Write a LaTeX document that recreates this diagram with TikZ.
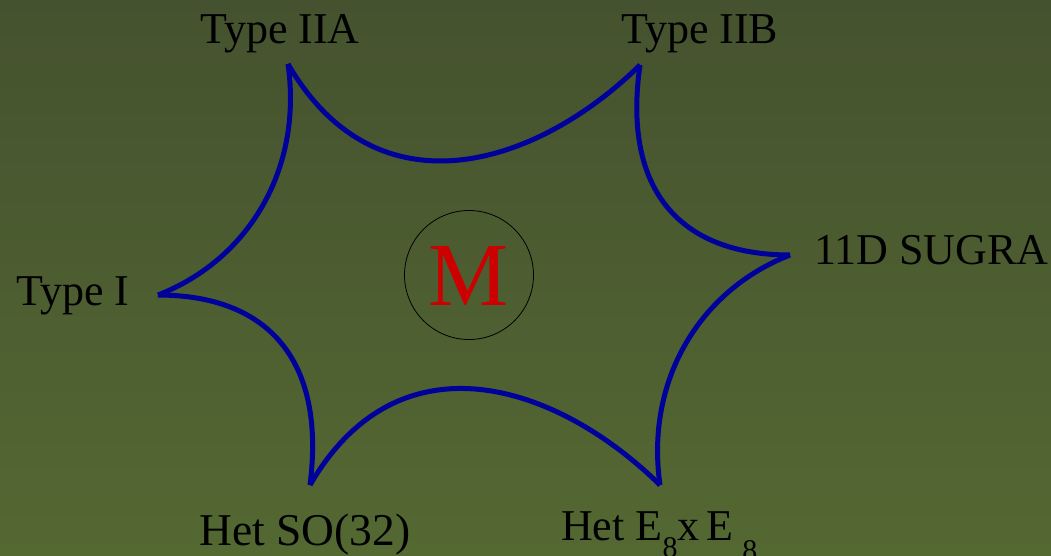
\documentclass[tikz,border=0pt]{standalone}
\usepackage{fontspec}
\setmainfont{Liberation Serif}
\definecolor{bgtop}{RGB}{69,82,47}
\definecolor{bgbot}{RGB}{84,104,50}
\definecolor{starblue}{RGB}{0,0,155}
\definecolor{mred}{RGB}{204,0,0}
\newcommand{\subeight}[1]{\raisebox{-#1}{\fontsize{30}{30}\selectfont 8}}
\begin{document}
\begin{tikzpicture}[x=1pt,y=-1pt,
  lbl/.style={anchor=base west, inner sep=0pt, font=\fontsize{44}{50}\selectfont},
  edge/.style={draw=starblue, line width=5pt, line cap=butt}]
\useasboundingbox (0,0) rectangle (1051,555);
\clip (0,0) rectangle (1051,555);
\shade[top color=bgtop, bottom color=bgbot] (0,0) rectangle (1051,555);
% cusps
\coordinate (IIA) at (288,64);
\coordinate (IIB) at (640,65);
\coordinate (SUGRA) at (790,255);
\coordinate (E8) at (660,485);
\coordinate (SO) at (310,485);
\coordinate (TI) at (158,295);
% edges
\draw[edge] (IIA) .. controls +(90,155) and +(-101,99.5) .. (IIB);
\draw[edge] (IIB) .. controls +(-18,125) and +(-110,0) .. (SUGRA);
\draw[edge] (SUGRA) .. controls +(-90,35) and +(-15,-105) .. (E8);
\draw[edge] (E8) .. controls +(-101,-99.5) and +(90,-155) .. (SO);
\draw[edge] (SO) .. controls +(16,-125) and +(110,0) .. (TI);
\draw[edge] (TI) .. controls +(90,-35) and +(15,106) .. (IIA);
% centre
\node[circle, draw=black, line width=0.8pt, minimum size=129pt, inner sep=0pt] (circ) at (469,275) {};
\node[anchor=base, inner sep=0pt, text=mred, font=\fontsize{90}{92}\selectfont] (M) at (469,305) {M};
% labels
\node[lbl] (tIIA) at (200,43) {Type IIA};
\node[lbl] (tIIB) at (621,43) {Type IIB};
\node[lbl] (tSUGRA) at (814,264) {11D SUGRA};
\node[lbl] (tI) at (16,305) {Type I};
\node[lbl, font=\fontsize{45.5}{50}\selectfont] (tSO) at (199,545) {Het SO(32)};
\node[lbl] (tE8) at (561,540) {Het E\subeight{17pt}x\kern7pt E\kern9pt\subeight{20pt}};
\end{tikzpicture}
\end{document}
